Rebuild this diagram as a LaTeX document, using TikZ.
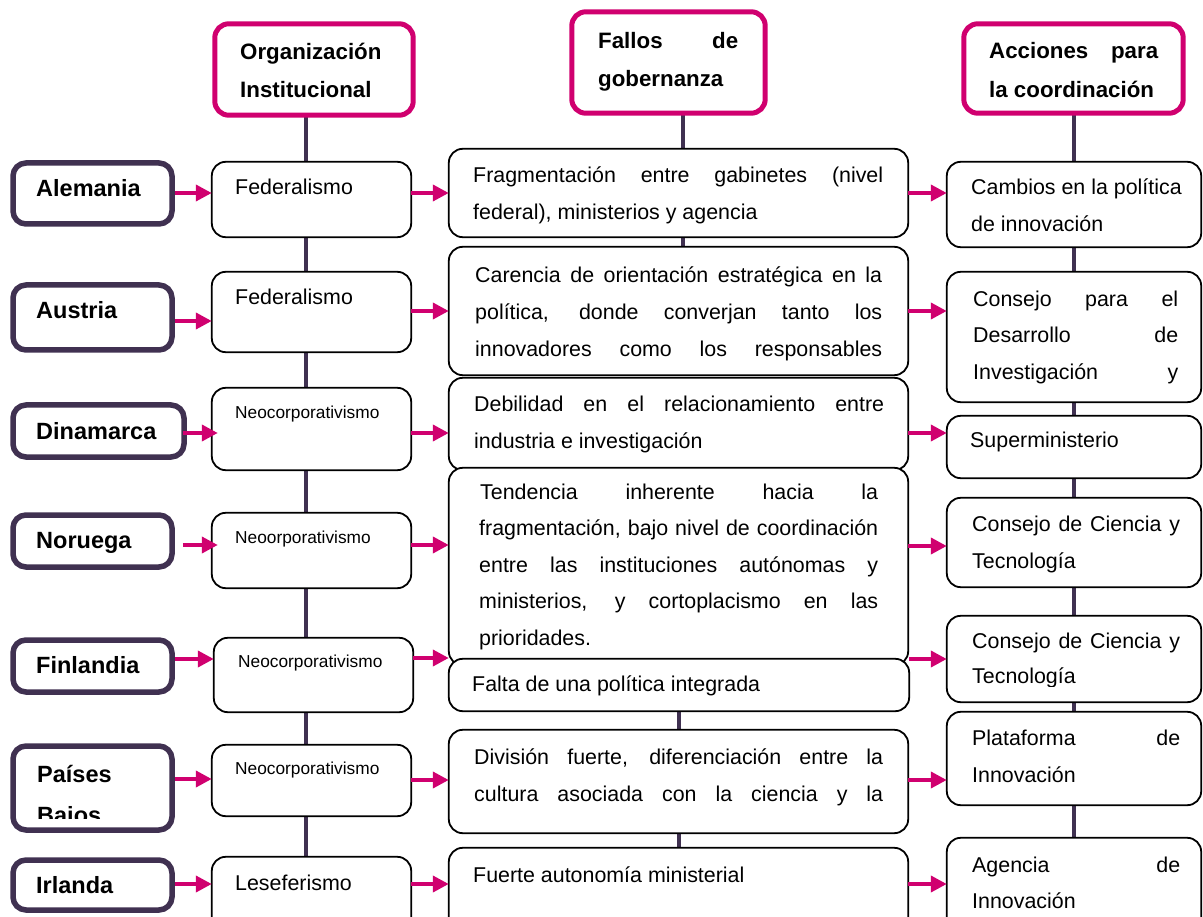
\documentclass[tikz,border=0pt]{standalone}
\usepackage{fontspec}
\setmainfont{Liberation Sans}
\usetikzlibrary{arrows.meta,fit,calc}
\definecolor{pinkc}{RGB}{208,0,111}
\definecolor{purp}{RGB}{64,49,81}
\newcommand\bodyf{\fontsize{21.4}{26}\selectfont}
\newcommand\smallf{\fontsize{17.3}{21}\selectfont}
\newcommand\hdrf{\fontsize{22.3}{27}\selectfont\bfseries}
\newcommand\ctyf{\fontsize{23.5}{28}\selectfont\bfseries}
\newcommand\jst[2]{\makebox[#1pt][s]{#2}}
\begin{document}
\begin{tikzpicture}[x=1pt,y=-1pt,
  hdr/.style={draw=pinkc, line width=5pt, rounded corners=14pt, fill=white, inner sep=0pt},
  cty/.style={draw=purp, line width=5.5pt, rounded corners=13pt, fill=white, inner sep=0pt},
  blk/.style={draw=black, line width=1.8pt, rounded corners=14pt, fill=white, inner sep=0pt},
  conn/.style={draw=purp, line width=4pt},
  arr/.style={draw=pinkc, line width=3.8pt, -{Triangle[length=16pt,width=16pt]}},
  tb/.style={anchor=base west, inner sep=0pt, font=\bodyf},
  ts/.style={anchor=base west, inner sep=0pt, font=\smallf},
  th/.style={anchor=base west, inner sep=0pt, font=\hdrf},
  tc/.style={anchor=base west, inner sep=0pt, font=\ctyf},
]
\path[use as bounding box] (0,0) rectangle (1203,917);
\clip (0,0) rectangle (1203,917);

% column x for connectors
\coordinate (k1) at (306,0);
\coordinate (k2) at (683,0);
\coordinate (k2b) at (679,0);
\coordinate (k3) at (1074,0);
% row y for arrows
\foreach \i/\y in {1/193,2/321,3/433,4/545,5/659,6/779,7/884} \coordinate (ya\i) at (0,\y);
\foreach \i/\y in {1/193,2/311,3/433,4/545,5/658,6/780,7/884} \coordinate (yb\i) at (0,\y);
\foreach \i/\y in {1/193,2/311,3/433,4/546,5/659,6/780,7/884} \coordinate (yc\i) at (0,\y);

% ---------- nodes (boxes), empty; placed with fit (names used by connectors)
\path
 node[fit={(215,24)(413,115)}, inner sep=0pt] (h1) {}
 node[fit={(572,12)(765,113)}, inner sep=0pt] (h2) {}
 node[fit={(964,24)(1183,113)}, inner sep=0pt] (h3) {}
 node[fit={(212,162)(411,237)}, inner sep=0pt] (o1) {}
 node[fit={(212,272)(411,352)}, inner sep=0pt] (o2) {}
 node[fit={(212,388)(411,470)}, inner sep=0pt] (o3) {}
 node[fit={(212,513)(411,588)}, inner sep=0pt] (o4) {}
 node[fit={(214,638)(413,712)}, inner sep=0pt] (o5) {}
 node[fit={(212,745)(411,816)}, inner sep=0pt] (o6) {}
 node[fit={(212,857)(411,960)}, inner sep=0pt] (o7) {}
 node[fit={(449,149)(908,237)}, inner sep=0pt] (f1) {}
 node[fit={(449,247)(908,375)}, inner sep=0pt] (f2) {}
 node[fit={(449,378)(908,470)}, inner sep=0pt] (f3) {}
 node[fit={(449,468)(908,665)}, inner sep=0pt] (f4) {}
 node[fit={(449,659)(909,711)}, inner sep=0pt] (f5) {}
 node[fit={(449,730)(908,833)}, inner sep=0pt] (f6) {}
 node[fit={(449,848)(908,960)}, inner sep=0pt] (f7) {}
 node[fit={(947,162)(1201,247)}, inner sep=0pt] (a1) {}
 node[fit={(947,272)(1201,402)}, inner sep=0pt] (a2) {}
 node[fit={(947,416)(1201,478)}, inner sep=0pt] (a3) {}
 node[fit={(947,498)(1201,587)}, inner sep=0pt] (a4) {}
 node[fit={(947,616)(1201,702)}, inner sep=0pt] (a5) {}
 node[fit={(947,712)(1201,805)}, inner sep=0pt] (a6) {}
 node[fit={(947,838)(1201,960)}, inner sep=0pt] (a7) {};

% ---------- vertical connectors (behind the boxes)
\draw[conn] (h1.south -| k1) -- (o1.north -| k1);
\foreach \a/\b in {o1/o2,o2/o3,o3/o4,o4/o5,o5/o6,o6/o7}
  \draw[conn] (\a.south -| k1) -- (\b.north -| k1);
\draw[conn] (h2.south -| k2) -- (f1.north -| k2);
\draw[conn] (f1.south -| k2) -- (f2.north -| k2);
\draw[conn] (f5.south -| k2b) -- (f6.north -| k2b);
\draw[conn] (f6.south -| k2b) -- (f7.north -| k2b);
\draw[conn] (h3.south -| k3) -- (a1.north -| k3);
\foreach \a/\b in {a1/a2,a2/a3,a3/a4,a4/a5,a5/a6,a6/a7}
  \draw[conn] (\a.south -| k3) -- (\b.north -| k3);

% ---------- boxes drawn on top
\foreach \n in {h1,h2,h3}
  \draw[hdr] (\n.north west) rectangle (\n.south east);
\foreach \n in {o1,o2,o3,o4,o5,o6,o7,f1,f2,f3,f4,f5,f6,f7,a1,a2,a3,a4,a5,a6,a7}
  \draw[blk] (\n.north west) rectangle (\n.south east);

% country boxes
\node[cty, fit={(13,163)(172,224)}] (c1) {};
\node[cty, fit={(13,285)(172,350)}] (c2) {};
\node[cty, fit={(13,405)(184,457)}] (c3) {};
\node[cty, fit={(13,515)(172,567)}] (c4) {};
\node[cty, fit={(13,640)(172,692)}] (c5) {};
\node[cty, fit={(13,746)(172,830)}] (c6) {};
\node[cty, fit={(13,860)(172,910)}] (c7) {};

% ---------- arrows
\draw[arr] (c1.east |- ya1) -- (o1.west |- ya1);
\draw[arr] (c2.east |- ya2) -- (o2.west |- ya2);
\draw[arr] ($(c3.east |- ya3)+(-4,0)$) -- ($(o3.west |- ya3)+(6,0)$);
\draw[arr] ($(c4.east |- ya4)+(8,0)$) -- ($(o4.west |- ya4)+(6,0)$);
\foreach \i in {5,6,7}
  \draw[arr] (c\i.east |- ya\i) -- (o\i.west |- ya\i);
\foreach \i in {1,...,7}
  \draw[arr] (o\i.east |- yb\i) -- (f\i.west |- yb\i);
\foreach \i in {1,...,7}
  \draw[arr] (f\i.east |- yc\i) -- (a\i.west |- yc\i);

% ---------- header texts
\node[th] (th1a) at (240,60) {Organización};
\node[th] (th1b) at (240,98) {Institucional};
\node[th] (th2a) at (598,49) {\jst{140}{Fallos de}};
\node[th] (th2b) at (598,87) {gobernanza};
\node[th] (th3a) at (989,59) {\jst{169}{Acciones para}};
\node[th] (th3b) at (989,98) {la coordinación};

% ---------- country texts
\node[tc] (tc1) at (36,197) {Alemania};
\node[tc] (tc2) at (36,319) {Austria};
\node[tc] (tc3) at (36,439) {Dinamarca};
\node[tc] (tc4) at (36,548) {Noruega};
\node[tc] (tc5) at (36,673) {Finlandia};
\node[tc] (tc6) at (37,782) {Países};
\begin{scope}
  \clip (0,790) rectangle (200,818);
  \node[tc] (tc6b) at (37,823) {Bajos};
\end{scope}
\node[tc] (tc7) at (36,893) {Irlanda};

% ---------- organisation texts
\node[tb] (to1) at (235,195) {Federalismo};
\node[tb] (to2) at (235,305) {Federalismo};
\node[ts] (to3) at (235,418) {Neocorporativismo};
\node[ts] (to4) at (235,543) {Neoorporativismo};
\node[ts] (to5) at (238,667) {Neocorporativismo};
\node[ts] (to6) at (235,774) {Neocorporativismo};
\node[tb] (to7) at (235,890) {Leseferismo};

% ---------- governance failure texts
\node[tb] (tf1a) at (473,183) {\jst{410}{Fragmentación entre gabinetes (nivel}};
\node[tb] (tf1b) at (473,220) {federal), ministerios y agencia};
\node[tb] (tf2a) at (475,283) {\jst{407}{Carencia de orientación estratégica en la}};
\node[tb] (tf2b) at (475,320) {\jst{407}{política, donde converjan tanto los}};
\node[tb] (tf2c) at (475,357) {\jst{407}{innovadores como los responsables}};
\node[tb] (tf3a) at (474,412) {\jst{410}{Debilidad en el relacionamiento entre}};
\node[tb] (tf3b) at (474,448) {industria e investigación};
\node[tb] (tf4a) at (480,499) {\jst{398}{Tendencia inherente hacia la}};
\node[tb] (tf4b) at (479,535) {\jst{399}{fragmentación, bajo nivel de coordinación}};
\node[tb] (tf4c) at (479,572) {\jst{399}{entre las instituciones autónomas y}};
\node[tb] (tf4d) at (479,608) {\jst{399}{ministerios, y cortoplacismo en las}};
\node[tb] (tf4e) at (479,645) {prioridades.};
\node[tb] (tf5a) at (472,691) {Falta de una política integrada};
\node[tb] (tf6a) at (474,764) {\jst{409}{División fuerte, diferenciación entre la}};
\node[tb] (tf6b) at (474,801) {\jst{409}{cultura asociada con la ciencia y la}};
\node[tb] (tf7a) at (473,882) {Fuerte autonomía ministerial};

% ---------- coordination action texts
\node[tb] (ta1a) at (971,195) {Cambios en la política};
\node[tb] (ta1b) at (971,232) {de innovación};
\node[tb] (ta2a) at (973,307) {\jst{205}{Consejo para el}};
\node[tb] (ta2b) at (973,343) {\jst{205}{Desarrollo de}};
\node[tb] (ta2c) at (973,380) {\jst{205}{Investigación y}};
\node[tb] (ta3a) at (970,447) {Superministerio};
\node[tb] (ta4a) at (972,531) {\jst{208}{Consejo de Ciencia y}};
\node[tb] (ta4b) at (972,568) {Tecnología};
\node[tb] (ta5a) at (972,648) {\jst{208}{Consejo de Ciencia y}};
\begin{scope}
  \clip (940,655) rectangle (1203,686);
  \node[tb] (ta5b) at (972,683) {Tecnología};
\end{scope}
\node[tb] (ta6a) at (972,745) {\jst{208}{Plataforma de}};
\node[tb] (ta6b) at (972,782) {Innovación};
\node[tb] (ta7a) at (972,872) {\jst{208}{Agencia de}};
\node[tb] (ta7b) at (972,908) {Innovación};
\end{tikzpicture}
\end{document}
